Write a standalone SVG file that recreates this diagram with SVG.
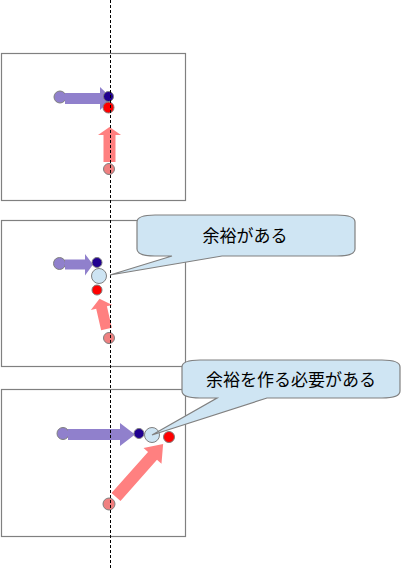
<svg xmlns="http://www.w3.org/2000/svg" width="418" height="568" viewBox="0 0 418 568">
<style>
.frame{fill:#fff;stroke:#808080;stroke-width:1.2}
.purple{fill:#9080cc}
.pink{fill:#ff8080}
.dot{stroke:#7f7f7f;stroke-width:1}
.pc{fill:#9080cc}
.nv{fill:#200090}
.rd{fill:#ff0000}
.pk{fill:#f08080}
.lb{fill:#cde4f3}
.callout{fill:#cfe5f3;stroke:#808080;stroke-width:1.2}
.lbl{font-family:"Noto Sans CJK JP","Noto Sans CJK SC",sans-serif;font-size:17px;fill:#000;text-anchor:middle}
.guide{stroke:#000;stroke-width:1;stroke-dasharray:3 2;fill:none}
</style>
<g id="frames">
<rect id="frame1" class="frame" x="1.5" y="53.5" width="184" height="147"/>
<rect id="frame2" class="frame" x="1.5" y="220.5" width="184" height="146"/>
<rect id="frame3" class="frame" x="1.5" y="389.5" width="184" height="147"/>
</g>
<g id="scene1">
<circle class="dot pc" cx="60" cy="97" r="6"/>
<polygon class="purple" points="65,93 100,93 100,87 112,98.5 100,110 100,104 65,104"/>
<circle class="dot nv" cx="108.5" cy="96.5" r="5"/>
<circle class="dot rd" cx="108.5" cy="107.5" r="5.5"/>
<polygon class="pink" points="103.5,162 103.5,135 98,135 109.5,127 121,135 115.5,135 115.5,162"/>
<circle class="dot pk" cx="109" cy="169" r="5.5"/>
</g>
<g id="scene2">
<circle class="dot pc" cx="59.5" cy="263.5" r="6"/>
<polygon class="purple" points="65,259.5 85,259.5 85,254 93,264.5 85,275.5 85,269.5 65,269.5"/>
<circle class="dot nv" cx="97" cy="262.5" r="5"/>
<circle class="dot lb" cx="99" cy="276" r="7.5"/>
<circle class="dot rd" cx="97" cy="290" r="5"/>
<g transform="translate(106.5,329) rotate(-103)">
<polygon class="pink" points="0,-5.5 22,-5.5 22,-11 31,0 22,11 22,5.5 0,5.5"/>
</g>
<circle class="dot pk" cx="109" cy="338" r="5.5"/>
</g>
<g id="scene3">
<circle class="dot pc" cx="63" cy="433.5" r="6"/>
<polygon class="purple" points="68,429 120,429 120,423 135,434.5 120,446 120,440 68,440"/>
<circle class="dot nv" cx="139" cy="433.5" r="5"/>
<circle class="dot lb" cx="152" cy="435" r="7.5"/>
<circle class="dot rd" cx="169" cy="437" r="5.5"/>
<g transform="translate(116,497) rotate(-48.4)">
<polygon class="pink" points="0,-6 55,-6 55,-12 71,0 55,12 55,6 0,6"/>
</g>
<circle class="dot pk" cx="109" cy="504" r="6"/>
</g>
<g id="connectors">
<line class="guide" x1="110.5" y1="0" x2="110.5" y2="568"/>
</g>
<g id="callout1">
<path class="callout" d="M155,215 H337 Q355,215 355,222 V249 Q355,256 337,256 H222 L110,275 L172,256 H155 Q137,256 137,249 V222 Q137,215 155,215 Z"/>
<text class="lbl" x="245" y="242">余裕がある</text>
</g>
<g id="callout2">
<path class="callout" d="M200,360 H382 Q400,360 400,367 V391 Q400,398 382,398 H267 L152,435 L217,398 H200 Q182,398 182,391 V367 Q182,360 200,360 Z"/>
<text class="lbl" x="291" y="386">余裕を作る必要がある</text>
</g>
</svg>
